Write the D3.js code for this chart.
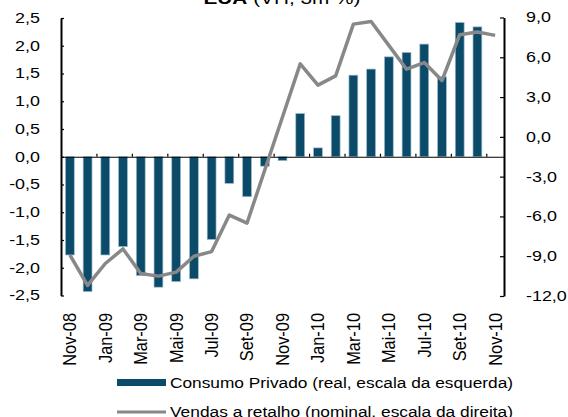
<!DOCTYPE html>
<html><head><meta charset="utf-8">
<script src="https://cdn.jsdelivr.net/npm/d3@7"></script>
<style>
body{margin:0;background:#fff;overflow:hidden}
text{font-family:"Liberation Sans",Arial,sans-serif;fill:#000}
</style>
</head><body><svg id="c" width="568" height="417"></svg>
<script>
const months = ["Nov-08","Dez-08","Jan-09","Fev-09","Mar-09","Abr-09","Mai-09","Jun-09","Jul-09","Ago-09","Set-09","Out-09","Nov-09","Dez-09","Jan-10","Fev-10","Mar-10","Abr-10","Mai-10","Jun-10","Jul-10","Ago-10","Set-10","Out-10","Nov-10"];
const xLabels = ["Nov-08","Jan-09","Mar-09","Mai-09","Jul-09","Set-09","Nov-09","Jan-10","Mar-10","Mai-10","Jul-10","Set-10","Nov-10"];
const consumo = [-1.77,-2.43,-1.77,-1.62,-2.14,-2.35,-2.25,-2.2,-1.49,-0.48,-0.72,-0.17,-0.07,0.78,0.16,0.74,1.47,1.58,1.8,1.88,2.03,1.44,2.42,2.34,null];
const vendas = [-8.9,-11.2,-9.55,-8.45,-10.3,-10.5,-10.2,-9.0,-8.65,-5.9,-6.5,-2.5,1.5,5.5,3.9,4.6,8.5,8.7,6.9,5.1,5.6,4.25,7.7,7.9,7.65];
const leftTicks = [2.5,2.0,1.5,1.0,0.5,0.0,-0.5,-1.0,-1.5,-2.0,-2.5];
const rightTicks = [9,6,3,0,-3,-6,-9,-12];
const seriesNames = ["Consumo Privado (real, escala da esquerda)","Vendas a retalho (nominal, escala da direita)"];
const titleBold = "EUA", titleRest = " (VH, 3m %)";

const svg = d3.select("#c");
const left = 61, right = 504;
const barColor = "#0c4a6a", lineColor = "#888888";
const SX = 1.28;

const x = d3.scaleBand().domain(months).range([left, right]).padding(0);
const xi = d3.scaleLinear().domain([0, months.length]).range([left, right]);
const yL = d3.scaleLinear().domain([-2.5, 2.5]).range([295.5, 18]);
const yR = d3.scaleLinear().domain([-12, 9]).range([296, 17.5]);
const fmt = v => v.toFixed(1).replace(".", ",");
const bw = x.bandwidth();

function stretch(sel, sx) {
  sel.each(function() {
    const t = d3.select(this);
    const tx = +t.attr("x") || 0, ty = +t.attr("y") || 0;
    t.attr("transform", `translate(${tx},${ty}) scale(${sx},1) translate(${-tx},${-ty})`);
  });
}

// bars
svg.append("g").selectAll("rect")
  .data(months.map((m, i) => ({m, v: consumo[i]})).filter(d => d.v != null))
  .join("rect")
  .attr("x", d => x(d.m) + bw * 0.25)
  .attr("width", bw * 0.5)
  .attr("y", d => yL(Math.max(0, d.v)))
  .attr("height", d => Math.abs(yL(d.v) - yL(0)))
  .attr("fill", barColor)
  .attr("stroke", "#9fbdcd")
  .attr("stroke-width", 0.7);

// zero axis with category ticks
const gx = svg.append("g").attr("transform", `translate(0,${yL(0)})`)
  .call(d3.axisTop(xi).tickValues(d3.range(2, 25, 2)).tickSize(3).tickSizeOuter(0).tickFormat(""));
gx.selectAll("path,line").attr("stroke", "#000").attr("stroke-width", 1.2);

// left axis
const gl = svg.append("g").attr("transform", `translate(${left},0)`)
  .call(d3.axisRight(yL).tickValues(leftTicks).tickSize(3).tickSizeOuter(0).tickFormat(""));
gl.select(".domain").attr("stroke", "#000").attr("stroke-width", 2);
gl.selectAll(".tick line").attr("stroke", "#000").attr("stroke-width", 1.2);
const gll = svg.append("g").attr("transform", `translate(${left},0)`)
  .call(d3.axisLeft(yL).tickValues(leftTicks).tickSize(0).tickPadding(21).tickFormat(fmt));
gll.select(".domain").remove();
gll.selectAll("text").attr("font-size", 14).attr("font-family", "Liberation Sans, Arial, sans-serif").attr("fill", "#000");
stretch(gll.selectAll("text"), SX);

// right axis
const gr = svg.append("g").attr("transform", `translate(${right},0)`)
  .call(d3.axisLeft(yR).tickValues(rightTicks).tickSize(4).tickSizeOuter(0).tickFormat(""));
gr.select(".domain").attr("stroke", "#000").attr("stroke-width", 2);
gr.selectAll(".tick line").attr("stroke", "#000").attr("stroke-width", 1.2);
const grl = svg.append("g").attr("transform", `translate(${right},0)`)
  .call(d3.axisRight(yR).tickValues(rightTicks).tickSize(0).tickPadding(22).tickFormat(fmt));
grl.select(".domain").remove();
grl.selectAll("text").attr("font-size", 14).attr("font-family", "Liberation Sans, Arial, sans-serif").attr("fill", "#000");
stretch(grl.selectAll("text"), SX);

// x labels
svg.append("g").selectAll("text").data(xLabels).join("text")
  .attr("transform", d => `translate(${x(d) + bw / 2},313) rotate(-90) scale(1.17,1.3)`)
  .attr("text-anchor", "end")
  .attr("dy", "0.35em")
  .attr("font-size", 14)
  .text(d => d);

// line
svg.append("path").datum(vendas)
  .attr("fill", "none")
  .attr("stroke", lineColor)
  .attr("stroke-width", 3.5)
  .attr("stroke-linejoin", "round")
  .attr("d", d3.line().x((d, i) => x(months[i]) + bw / 2).y(d => yR(d)));

// title
const title = svg.append("text").attr("x", 282).attr("y", 4).attr("text-anchor", "middle")
  .attr("font-size", 17).attr("textLength", 157).attr("lengthAdjust", "spacingAndGlyphs");
title.append("tspan").attr("font-weight", "bold").text(titleBold);
title.append("tspan").text(titleRest);

// legend
const lg = svg.append("g");
lg.append("rect").attr("x", 117).attr("y", 379).attr("width", 49).attr("height", 7).attr("fill", barColor);
lg.append("text").attr("x", 170).attr("y", 387.5).attr("font-size", 14)
  .attr("textLength", 343).attr("lengthAdjust", "spacingAndGlyphs").text(seriesNames[0]);
lg.append("line").attr("x1", 117).attr("x2", 166).attr("y1", 412).attr("y2", 412)
  .attr("stroke", lineColor).attr("stroke-width", 3);
lg.append("text").attr("x", 170).attr("y", 416.5).attr("font-size", 14)
  .attr("textLength", 343).attr("lengthAdjust", "spacingAndGlyphs").text(seriesNames[1]);
</script>
</body></html>
